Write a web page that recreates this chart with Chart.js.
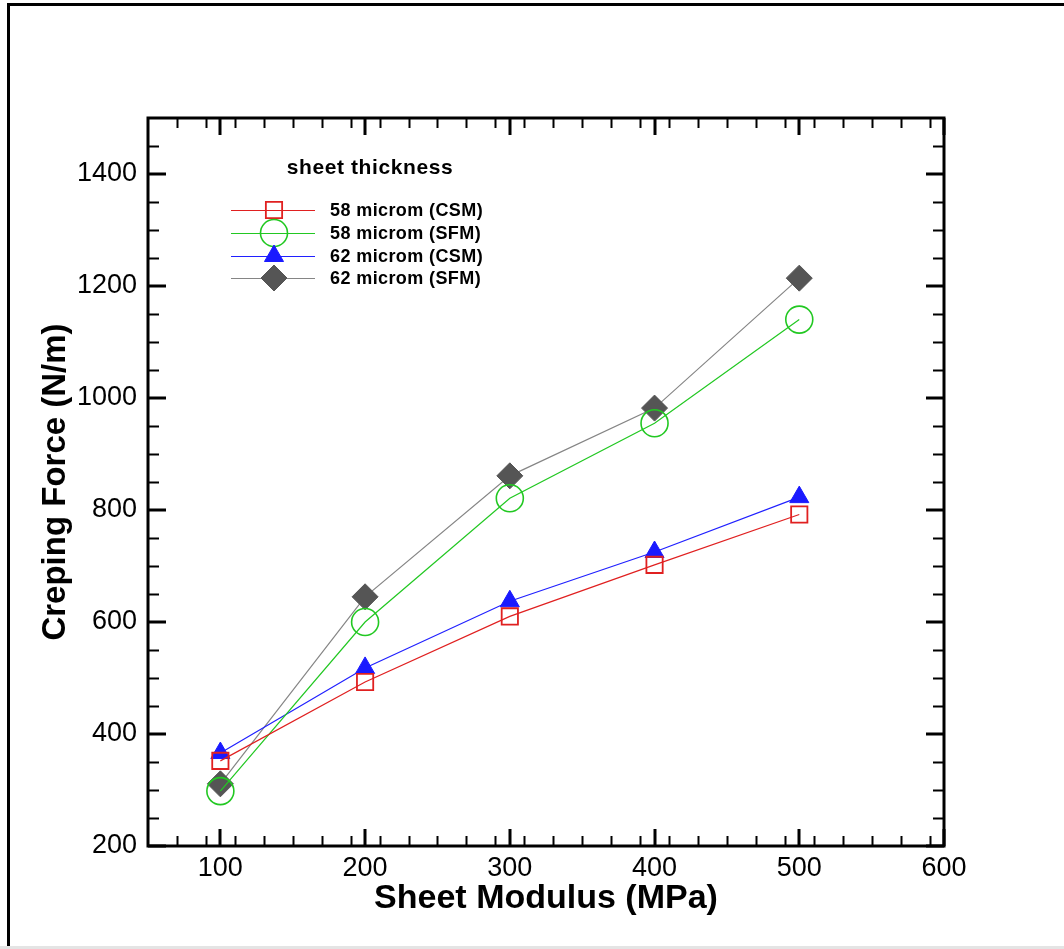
<!DOCTYPE html>
<html>
<head>
<meta charset="utf-8">
<script src="https://cdn.jsdelivr.net/npm/chart.js@4.4.0/dist/chart.umd.min.js"></script>
<style>
  html, body { margin: 0; padding: 0; background: #fff; }
  #wrap { position: relative; width: 1064px; height: 949px; }
</style>
</head>
<body>
<div id="wrap"><canvas id="chart" width="1064" height="949"></canvas></div>
<script>
/* Creping force vs sheet modulus — line chart with inward ticks */

const modulus = [100, 200, 300, 400, 500];
const csm58 = [352, 493, 610, 702, 792];
const sfm58 = [298, 600, 821, 955, 1140];
const csm62 = [366, 518, 637, 725, 823];
const sfm62 = [311, 645, 861, 982, 1214];

const seriesLabels = ['58 microm (CSM)', '58 microm (SFM)', '62 microm (CSM)', '62 microm (SFM)'];
const xTicks = [100, 200, 300, 400, 500, 600];
const yTicks = [200, 400, 600, 800, 1000, 1200, 1400];
const xMinorStep = 20;
const yMinorStep = 50;

const FONT = 'Arial, "Liberation Sans", Helvetica, sans-serif';

function pts(values) {
  return modulus.map((x, i) => ({ x: x, y: values[i] }));
}

const datasets = [
  {
    label: seriesLabels[0], data: pts(csm58),
    borderColor: '#e02020', borderWidth: 1.2,
    pointStyle: 'rect', pointRadius: 11.5, pointBorderWidth: 1.8,
    pointBackgroundColor: 'rgba(255,255,255,0)', pointBorderColor: '#e02020',
  },
  {
    label: seriesLabels[1], data: pts(sfm58),
    borderColor: '#22c822', borderWidth: 1.2,
    pointStyle: 'circle', pointRadius: 13.5, pointBorderWidth: 1.6,
    pointBackgroundColor: 'rgba(255,255,255,0)', pointBorderColor: '#22c822',
  },
  {
    label: seriesLabels[2], data: pts(csm62),
    borderColor: '#2020ff', borderWidth: 1.2,
    pointStyle: 'triangle', pointRadius: 11, pointBorderWidth: 1,
    pointBackgroundColor: '#1a1aff', pointBorderColor: '#1a1aff',
  },
  {
    label: seriesLabels[3], data: pts(sfm62),
    borderColor: '#858585', borderWidth: 1.2,
    pointStyle: 'rectRot', pointRadius: 13, pointBorderWidth: 1,
    pointBackgroundColor: '#555555', pointBorderColor: '#555555',
  },
];

datasets.forEach((d) => { d.fill = false; d.tension = 0; d.showLine = true; });

// ---- page frame (left/top border, grey strip at bottom) ----
const pageFrame = {
  id: 'pageFrame',
  beforeDraw(chart) {
    const ctx = chart.ctx;
    ctx.save();
    ctx.fillStyle = '#fff';
    ctx.fillRect(0, 0, chart.width, chart.height);
    ctx.fillStyle = '#000';
    ctx.fillRect(7, 3, 3, 943);
    ctx.fillRect(7, 3, chart.width - 7, 3);
    ctx.fillStyle = '#e4e4e4';
    ctx.fillRect(0, 946, chart.width, 3);
    ctx.restore();
  },
};

// ---- box around plot area with inward ticks on all four sides ----
const boxTicks = {
  id: 'boxTicks',
  afterDatasetsDraw(chart) {
    const { ctx, chartArea: a, scales } = chart;
    const xs = scales.x, ys = scales.y;
    ctx.save();
    ctx.strokeStyle = '#000';

    // minor ticks
    ctx.lineWidth = 2;
    ctx.beginPath();
    for (let v = xs.min + xMinorStep; v < xs.max; v += xMinorStep) {
      if (xTicks.includes(v)) continue;
      const px = Math.round(xs.getPixelForValue(v)) + 0.5;
      ctx.moveTo(px, a.bottom); ctx.lineTo(px, a.bottom - 10);
      ctx.moveTo(px, a.top); ctx.lineTo(px, a.top + 10);
    }
    for (let v = ys.min + yMinorStep; v < ys.max; v += yMinorStep) {
      if (yTicks.includes(v)) continue;
      const py = Math.round(ys.getPixelForValue(v)) + 0.5;
      ctx.moveTo(a.left, py); ctx.lineTo(a.left + 11, py);
      ctx.moveTo(a.right, py); ctx.lineTo(a.right - 11, py);
    }
    ctx.stroke();

    // major ticks
    ctx.lineWidth = 3;
    ctx.beginPath();
    xTicks.forEach((v) => {
      const px = Math.round(xs.getPixelForValue(v));
      ctx.moveTo(px, a.bottom); ctx.lineTo(px, a.bottom - 17);
      ctx.moveTo(px, a.top); ctx.lineTo(px, a.top + 17);
    });
    yTicks.forEach((v) => {
      const py = Math.round(ys.getPixelForValue(v));
      ctx.moveTo(a.left, py); ctx.lineTo(a.left + 18, py);
      ctx.moveTo(a.right, py); ctx.lineTo(a.right - 18, py);
    });
    ctx.stroke();

    ctx.lineWidth = 3;
    ctx.strokeRect(a.left, a.top, a.right - a.left, a.bottom - a.top);
    ctx.restore();
  },
};

// ---- legend drawn inside the plot ----
const innerLegend = {
  id: 'innerLegend',
  afterDraw(chart) {
    const ctx = chart.ctx;
    ctx.save();
    ctx.fillStyle = '#000';
    ctx.font = 'bold 21px ' + FONT;
    ctx.letterSpacing = '0.6px';
    ctx.textAlign = 'center';
    ctx.textBaseline = 'middle';
    ctx.fillText('sheet thickness', 370, 168);

    const rowY = [210, 233, 256, 278];
    chart.data.datasets.forEach((ds, i) => {
      const y = rowY[i];
      ctx.strokeStyle = ds.borderColor;
      ctx.lineWidth = 1.2;
      ctx.beginPath();
      ctx.moveTo(231, y + 0.5); ctx.lineTo(315, y + 0.5);
      ctx.stroke();
      ctx.fillStyle = ds.pointBackgroundColor;
      ctx.strokeStyle = ds.pointBorderColor;
      ctx.lineWidth = ds.pointBorderWidth;
      Chart.helpers.drawPoint(ctx, {
        pointStyle: ds.pointStyle, radius: ds.pointRadius,
        borderWidth: ds.pointBorderWidth, rotation: 0,
      }, 274, y);
      ctx.fillStyle = '#000';
      ctx.font = 'bold 18px ' + FONT;
      ctx.letterSpacing = '0.4px';
      ctx.textAlign = 'left';
      ctx.fillText(ds.label, 330, y + 1);
    });
    ctx.restore();
  },
};

new Chart(document.getElementById('chart'), {
  type: 'line',
  data: { datasets },
  options: {
    responsive: false,
    animation: false,
    layout: { padding: { left: 0, top: 118, right: 120, bottom: 0 } },
    plugins: { legend: { display: false }, tooltip: { enabled: false } },
    scales: {
      x: {
        type: 'linear', min: 50, max: 600,
        afterBuildTicks: (s) => { s.ticks = xTicks.map((v) => ({ value: v })); },
        afterFit: (s) => { s.height = 103; },
        grid: { display: false, drawTicks: false },
        border: { display: false },
        ticks: {
          color: '#000', padding: 6, font: { family: FONT, size: 27 },
          callback: (v) => String(v),
        },
        title: {
          display: true, text: 'Sheet Modulus (MPa)', color: '#000',
          font: { family: FONT, size: 34, weight: 'bold' },
          padding: { top: 0, bottom: 30 },
        },
      },
      y: {
        type: 'linear', min: 200, max: 1500,
        afterBuildTicks: (s) => { s.ticks = yTicks.map((v) => ({ value: v })); },
        afterFit: (s) => { s.width = 148; },
        grid: { display: false, drawTicks: false },
        border: { display: false },
        ticks: {
          color: '#000', padding: 11, font: { family: FONT, size: 27 },
          callback: (v) => String(v),
        },
        title: {
          display: true, text: 'Creping Force (N/m)', color: '#000',
          font: { family: FONT, size: 33, weight: 'bold' },
          padding: { top: 36, bottom: 0 },
        },
      },
    },
  },
  plugins: [pageFrame, boxTicks, innerLegend],
});
</script>
</body>
</html>
